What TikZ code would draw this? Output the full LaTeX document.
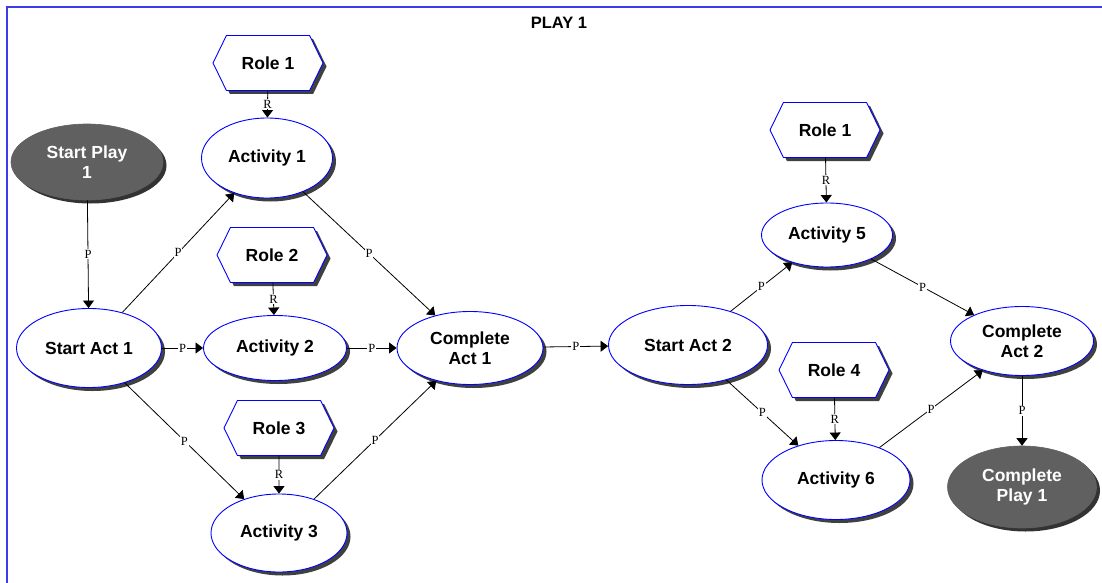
\documentclass[tikz,border=0pt]{standalone}
\usepackage{fontspec}
\setmainfont{Liberation Sans}
\newfontfamily\lblfont{Liberation Serif}
\usetikzlibrary{arrows.meta,shadows,shapes.geometric,shapes.symbols}
\definecolor{frameblue}{RGB}{60,60,235}
\definecolor{nodeblue}{RGB}{0,0,255}
\definecolor{darkfill}{RGB}{96,96,96}
\definecolor{shadowgray}{RGB}{64,64,64}
\tikzset{
  actnode/.style={ellipse, draw=nodeblue, line width=0.9pt, fill=white, inner sep=0pt,
    align=center, font=\fontsize{17.5}{20}\selectfont\bfseries,
    drop shadow={shadow xshift=3.5pt, shadow yshift=-3.5pt, fill=shadowgray, opacity=1}},
  endnode/.style={ellipse, draw=darkfill, line width=0.6pt, fill=darkfill, inner sep=0pt,
    align=center, text=white, font=\fontsize{17.5}{20}\selectfont\bfseries,
    drop shadow={shadow xshift=3.5pt, shadow yshift=-3.5pt, fill=shadowgray!80!black, opacity=1}},
  rolenode/.style={signal, signal to=east and west, signal pointer angle=128,
    draw=nodeblue, line width=0.9pt, fill=white, inner sep=0pt,
    minimum width=110pt, minimum height=55pt,
    font=\fontsize{17.5}{20}\selectfont\bfseries,
    drop shadow={shadow xshift=3.5pt, shadow yshift=-3.5pt, fill=shadowgray, opacity=1}},
  flow/.style={draw=black, line width=0.8pt, -{Triangle[length=7.5pt,width=11pt]}},
  elabel/.style={fill=white, inner sep=0.8pt, font=\lblfont\fontsize{12.5}{13}\selectfont},
  titletext/.style={font=\fontsize{16.5}{19}\selectfont\bfseries}
}
\begin{document}
\begin{tikzpicture}[x=1pt,y=-1pt]
\useasboundingbox (0,0) rectangle (1102,583);
\fill[white] (0,0) rectangle (1102,583);
\draw[frameblue, line width=1.6pt] (7,590) -- (7,7) -- (1110,7);
\node[titletext] (title) at (559,23) {PLAY 1};

% ellipses
\node[endnode, minimum width=152pt, minimum height=76pt] (sp1) at (87,162) {Start Play\\1};
\node[actnode, minimum width=145pt, minimum height=79pt] (sa1) at (89,348) {Start Act 1};
\node[actnode, minimum width=131pt, minimum height=80pt] (a1) at (267,158) {Activity 1};
\node[actnode, minimum width=143pt, minimum height=65pt] (a2) at (275,348) {Activity 2};
\node[actnode, minimum width=136pt, minimum height=78pt] (a3) at (279,533) {Activity 3};
\node[actnode, minimum width=146pt, minimum height=73pt] (ca1) at (470,348) {Complete\\Act 1};
\node[actnode, minimum width=159pt, minimum height=79pt] (sa2) at (688,345) {Start Act 2};
\node[actnode, minimum width=131pt, minimum height=64pt] (a5) at (827,235) {Activity 5};
\node[actnode, minimum width=148pt, minimum height=79pt] (a6) at (836,480) {Activity 6};
\node[actnode, minimum width=143pt, minimum height=69pt] (ca2) at (1022,341) {Complete\\Act 2};
\node[endnode, minimum width=149pt, minimum height=82pt] (cp1) at (1022,487) {Complete\\Play 1};

% roles
\node[rolenode] (r1) at (268,63) {Role 1};
\node[rolenode] (r2) at (272,255) {Role 2};
\node[rolenode] (r3) at (279,428) {Role 3};
\node[rolenode] (r1b) at (825,130) {Role 1};
\node[rolenode] (r4) at (834,370) {Role 4};

% connectors
\draw[flow] (sp1) -- node[elabel]{P} (sa1);
\draw[flow] (sa1) -- node[elabel]{P} (a1);
\draw[flow] (sa1) -- node[elabel]{P} (a2);
\draw[flow] (sa1) -- node[elabel]{P} (a3);
\draw[flow] (r1) -- node[elabel]{R} (a1);
\draw[flow] (r2) -- node[elabel]{R} (a2);
\draw[flow] (r3) -- node[elabel]{R} (a3);
\draw[flow] (a1) -- node[elabel]{P} (ca1);
\draw[flow] (a2) -- node[elabel]{P} (ca1);
\draw[flow] (a3) -- node[elabel]{P} (ca1);
\draw[flow] (ca1) -- node[elabel]{P} (sa2);
\draw[flow] (sa2) -- node[elabel]{P} (a5);
\draw[flow] (sa2) -- node[elabel]{P} (a6);
\draw[flow] (r1b) -- node[elabel]{R} (a5);
\draw[flow] (r4) -- node[elabel]{R} (a6);
\draw[flow] (a5) -- node[elabel]{P} (ca2);
\draw[flow] (a6) -- node[elabel]{P} (ca2);
\draw[flow] (ca2) -- node[elabel]{P} (cp1);
\end{tikzpicture}
\end{document}
